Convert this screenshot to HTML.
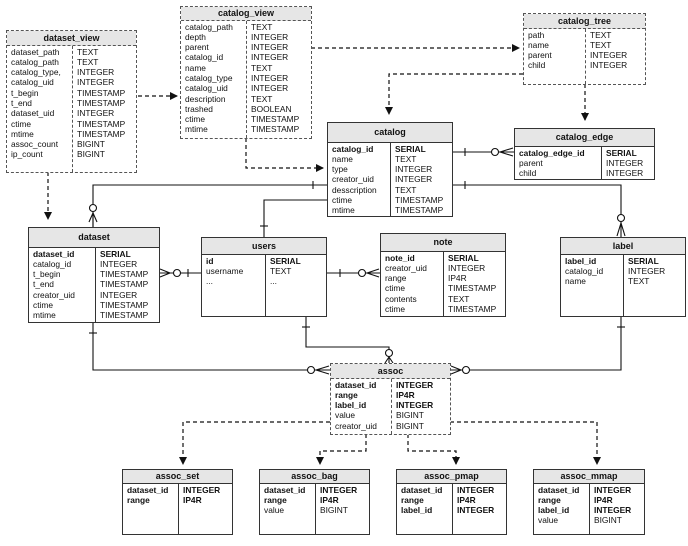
<!DOCTYPE html>
<html><head><meta charset="utf-8"><style>
body{margin:0;width:688px;height:546px;background:#fff;position:relative;overflow:hidden;font-family:"Liberation Sans",sans-serif;}
svg{position:absolute;left:0;top:0}
.t{position:absolute;border:1px solid #333;background:#fff;font-size:8.4px;color:#111;box-sizing:border-box}
.d{border:1.5px dashed #555}
.h{background:#e6e6e6;border-bottom:1px solid #333;text-align:center;font-weight:bold;font-size:9px;box-sizing:border-box}
.d .h{border-bottom:1.5px dashed #555}
.c{position:absolute;bottom:0;line-height:10.3px;padding-top:0.5px;white-space:nowrap}
.c1{left:4px}
.c2{border-left:1px solid #333;padding-left:4px}
.d .c2{border-left:1.5px dashed #555}
b{font-weight:bold}
</style></head><body>
<svg width="688" height="546">
<defs><marker id="a" markerWidth="8" markerHeight="8" refX="7" refY="4" orient="auto" markerUnits="userSpaceOnUse"><path d="M0,0 L8,4 L0,8z" fill="#111"/></marker></defs>
<g fill="none" stroke="#111" stroke-width="1.2" stroke-dasharray="4,3">
<path d="M138,96 H177" marker-end="url(#a)"/>
<path d="M311,48 H519" marker-end="url(#a)"/>
<path d="M246,138 V168 H323" marker-end="url(#a)"/>
<path d="M523,74 H389 V114" marker-end="url(#a)"/>
<path d="M585,84 V120" marker-end="url(#a)"/>
<path d="M48,172 V219" marker-end="url(#a)"/>
<path d="M330,422 H183 V464" marker-end="url(#a)"/>
<path d="M366,434 V451 H320 V464" marker-end="url(#a)"/>
<path d="M408,434 V451 H456 V464" marker-end="url(#a)"/>
<path d="M450,422 H597 V464" marker-end="url(#a)"/>
</g>
<g fill="none" stroke="#111" stroke-width="1.1">
<path d="M327,185 H93 V227"/><path d="M313,181 V189"/><circle cx="93" cy="208" r="3.5" fill="#fff"/><path d="M93,213 L89,222 M93,213 L97,222 M93,213 V227"/>
<path d="M327,200 H264 V237"/><path d="M260,226 H268"/>
<path d="M452,152 H514"/><path d="M465,148 V156"/><circle cx="495" cy="152" r="3.5" fill="#fff"/><path d="M500,152 L513,148 M500,152 L513,156"/>
<path d="M452,185 H621 V237"/><path d="M465,181 V189"/><circle cx="621" cy="218" r="3.5" fill="#fff"/><path d="M621,223 L617,236 M621,223 L625,236"/>
<path d="M159,273 H201"/><path d="M160,269 L170,273 L160,277"/><circle cx="177" cy="273" r="3.5" fill="#fff"/><path d="M188,269 V277"/>
<path d="M326,273 H380"/><path d="M340,269 V277"/><circle cx="362" cy="273" r="3.5" fill="#fff"/><path d="M367,273 L379,269 M367,273 L379,277"/>
<path d="M306,316 V347 H389 V363"/><path d="M302,327 H310"/><circle cx="389" cy="353" r="3.5" fill="#fff"/><path d="M389,357 L385,363 M389,357 L393,363"/>
<path d="M93,322 V370 H330"/><path d="M89,333 H97"/><circle cx="311" cy="370" r="3.5" fill="#fff"/><path d="M316,370 L329,366 M316,370 L329,374"/>
<path d="M621,316 V370 H450"/><path d="M617,327 H625"/><circle cx="466" cy="370" r="3.5" fill="#fff"/><path d="M461,370 L451,366 M461,370 L451,374"/>
</g>
</svg>

<div class="t d" style="left:6px;top:30px;width:131px;height:143px"><div class="h" style="height:15px;line-height:14px">dataset_view</div>
<div class="c c1" style="top:15px">dataset_path<br>catalog_path<br>catalog_type,<br>catalog_uid<br>t_begin<br>t_end<br>dataset_uid<br>ctime<br>mtime<br>assoc_count<br>ip_count</div>
<div class="c c2" style="top:15px;left:65px">TEXT<br>TEXT<br>INTEGER<br>INTEGER<br>TIMESTAMP<br>TIMESTAMP<br>INTEGER<br>TIMESTAMP<br>TIMESTAMP<br>BIGINT<br>BIGINT</div></div>

<div class="t d" style="left:180px;top:6px;width:132px;height:133px"><div class="h" style="height:14px;line-height:13px">catalog_view</div>
<div class="c c1" style="top:14px">catalog_path<br>depth<br>parent<br>catalog_id<br>name<br>catalog_type<br>catalog_uid<br>description<br>trashed<br>ctime<br>mtime</div>
<div class="c c2" style="top:14px;left:65px">TEXT<br>INTEGER<br>INTEGER<br>INTEGER<br>TEXT<br>INTEGER<br>INTEGER<br>TEXT<br>BOOLEAN<br>TIMESTAMP<br>TIMESTAMP</div></div>

<div class="t d" style="left:523px;top:13px;width:123px;height:72px"><div class="h" style="height:15px;line-height:14px">catalog_tree</div>
<div class="c c1" style="top:15px">path<br>name<br>parent<br>child</div>
<div class="c c2" style="top:15px;left:61px">TEXT<br>TEXT<br>INTEGER<br>INTEGER</div></div>

<div class="t" style="left:327px;top:122px;width:126px;height:95px"><div class="h" style="height:20px;line-height:19px">catalog</div>
<div class="c c1" style="top:20px"><b>catalog_id</b><br>name<br>type<br>creator_uid<br>desscription<br>ctime<br>mtime</div>
<div class="c c2" style="top:20px;left:62px"><b>SERIAL</b><br>TEXT<br>INTEGER<br>INTEGER<br>TEXT<br>TIMESTAMP<br>TIMESTAMP</div></div>

<div class="t" style="left:514px;top:128px;width:141px;height:52px"><div class="h" style="height:18px;line-height:17px">catalog_edge</div>
<div class="c c1" style="top:18px"><b>catalog_edge_id</b><br>parent<br>child</div>
<div class="c c2" style="top:18px;left:86px"><b>SERIAL</b><br>INTEGER<br>INTEGER</div></div>

<div class="t" style="left:28px;top:227px;width:132px;height:96px"><div class="h" style="height:20px;line-height:19px">dataset</div>
<div class="c c1" style="top:20px"><b>dataset_id</b><br>catalog_id<br>t_begin<br>t_end<br>creator_uid<br>ctime<br>mtime</div>
<div class="c c2" style="top:20px;left:66px"><b>SERIAL</b><br>INTEGER<br>TIMESTAMP<br>TIMESTAMP<br>INTEGER<br>TIMESTAMP<br>TIMESTAMP</div></div>

<div class="t" style="left:201px;top:237px;width:126px;height:80px"><div class="h" style="height:17px;line-height:16px">users</div>
<div class="c c1" style="top:17px"><b>id</b><br>username<br>...</div>
<div class="c c2" style="top:17px;left:63px"><b>SERIAL</b><br>TEXT<br>...</div></div>

<div class="t" style="left:380px;top:233px;width:126px;height:84px"><div class="h" style="height:18px;line-height:17px">note</div>
<div class="c c1" style="top:18px"><b>note_id</b><br>creator_uid<br>range<br>ctime<br>contents<br>ctime</div>
<div class="c c2" style="top:18px;left:62px"><b>SERIAL</b><br>INTEGER<br>IP4R<br>TIMESTAMP<br>TEXT<br>TIMESTAMP</div></div>

<div class="t" style="left:560px;top:237px;width:126px;height:80px"><div class="h" style="height:17px;line-height:16px">label</div>
<div class="c c1" style="top:17px"><b>label_id</b><br>catalog_id<br>name</div>
<div class="c c2" style="top:17px;left:62px"><b>SERIAL</b><br>INTEGER<br>TEXT</div></div>

<div class="t d" style="left:330px;top:363px;width:121px;height:72px"><div class="h" style="height:15px;line-height:14px">assoc</div>
<div class="c c1" style="top:15px"><b>dataset_id</b><br><b>range</b><br><b>label_id</b><br>value<br>creator_uid</div>
<div class="c c2" style="top:15px;left:60px"><b>INTEGER</b><br><b>IP4R</b><br><b>INTEGER</b><br>BIGINT<br>BIGINT</div></div>

<div class="t" style="left:122px;top:469px;width:111px;height:66px"><div class="h" style="height:14px;line-height:13px">assoc_set</div>
<div class="c c1" style="top:14px"><b>dataset_id</b><br><b>range</b></div>
<div class="c c2" style="top:14px;left:55px"><b>INTEGER</b><br><b>IP4R</b></div></div>

<div class="t" style="left:259px;top:469px;width:111px;height:66px"><div class="h" style="height:14px;line-height:13px">assoc_bag</div>
<div class="c c1" style="top:14px"><b>dataset_id</b><br><b>range</b><br>value</div>
<div class="c c2" style="top:14px;left:55px"><b>INTEGER</b><br><b>IP4R</b><br>BIGINT</div></div>

<div class="t" style="left:396px;top:469px;width:111px;height:66px"><div class="h" style="height:14px;line-height:13px">assoc_pmap</div>
<div class="c c1" style="top:14px"><b>dataset_id</b><br><b>range</b><br><b>label_id</b></div>
<div class="c c2" style="top:14px;left:55px"><b>INTEGER</b><br><b>IP4R</b><br><b>INTEGER</b></div></div>

<div class="t" style="left:533px;top:469px;width:112px;height:66px"><div class="h" style="height:14px;line-height:13px">assoc_mmap</div>
<div class="c c1" style="top:14px"><b>dataset_id</b><br><b>range</b><br><b>label_id</b><br>value</div>
<div class="c c2" style="top:14px;left:55px"><b>INTEGER</b><br><b>IP4R</b><br><b>INTEGER</b><br>BIGINT</div></div>
</body></html>
